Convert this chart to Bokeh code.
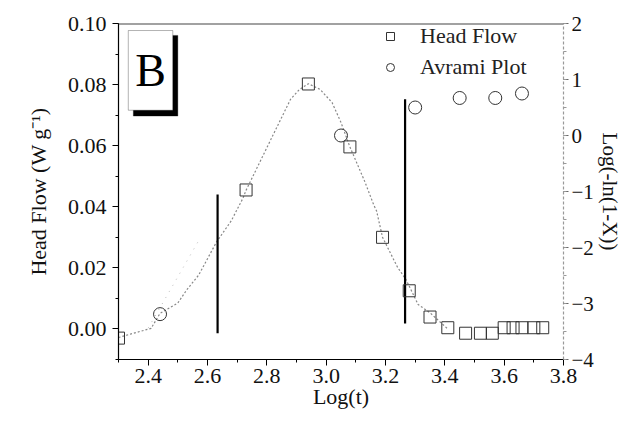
from bokeh.plotting import figure
from bokeh.models import (Range1d, LinearAxis, NumeralTickFormatter, Span,
                          BoxAnnotation, Label, Legend, LegendItem, FixedTicker)
from bokeh.embed import file_html
from bokeh.resources import INLINE

# ---- data ----
hf_x = [2.30, 2.73, 2.94, 3.08, 3.19, 3.28, 3.35, 3.41, 3.47, 3.52, 3.56, 3.60, 3.63, 3.66, 3.70, 3.73]
hf_y = [-0.003, 0.0455, 0.0802, 0.0596, 0.030, 0.0125, 0.0039, 0.0004, -0.0014, -0.0014, -0.0014,
        0.0004, 0.0004, 0.0004, 0.0004, 0.0004]

av_x = [2.44, 3.05, 3.30, 3.45, 3.57, 3.66]
av_y = [-3.19, 0.00, 0.50, 0.67, 0.67, 0.75]

fit_x = [2.30, 2.34, 2.41, 2.44, 2.50, 2.53, 2.57, 2.60, 2.63, 2.68, 2.72, 2.73, 2.82, 2.88,
         2.91, 2.94, 2.98, 3.02, 3.05, 3.08, 3.13, 3.16, 3.17, 3.19, 3.24, 3.27, 3.31, 3.35, 3.41]
fit_y = [-0.0028, -0.0017, 0.0002, 0.0051, 0.0085, 0.0128, 0.0176, 0.023, 0.0284, 0.0354, 0.0429,
         0.0454, 0.0633, 0.0752, 0.0784, 0.0803, 0.0784, 0.0741, 0.0676, 0.0596, 0.0483, 0.0407,
         0.0386, 0.030, 0.0203, 0.016, 0.008, 0.0053, 0.0]

avfit_x = [2.40, 2.57]
avfit_y = [-3.44, -1.88]

vline_x = [2.634, 3.266]
vline_top = [0.044, 0.0752]
vline_bot = [-0.0014, 0.0018]

x_ticks = [2.4, 2.6, 2.8, 3.0, 3.2, 3.4, 3.6, 3.8]
yl_ticks = [0.00, 0.02, 0.04, 0.06, 0.08, 0.10]
yr_ticks = [-4, -3, -2, -1, 0, 1, 2]

FONT = "Liberation Serif"

p = figure(width=624, height=411, output_backend="svg", toolbar_location=None,
           x_range=Range1d(2.3, 3.8), y_range=Range1d(-0.01, 0.10),
           min_border_left=118, min_border_right=55, min_border_top=23, min_border_bottom=47)
p.extra_y_ranges = {"right": Range1d(-4, 2)}
p.grid.visible = False
p.outline_line_color = None
p.background_fill_color = "white"

def style_axis(ax):
    ax.axis_line_color = "black"
    ax.axis_line_width = 1.2
    ax.major_tick_line_color = "black"
    ax.minor_tick_line_color = "black"
    ax.major_tick_out = 6
    ax.major_tick_in = 0
    ax.minor_tick_out = 3
    ax.minor_tick_in = 0
    ax.major_label_text_font = FONT
    ax.major_label_text_font_size = "22px"
    ax.major_label_text_color = "#111"
    ax.axis_label_text_font = FONT
    ax.axis_label_text_font_size = "22px"
    ax.axis_label_text_font_style = "normal"
    ax.axis_label_text_color = "#111"

xa = p.xaxis[0]
style_axis(xa)
xa.ticker = FixedTicker(ticks=x_ticks, minor_ticks=[2.3 + 0.1 * i for i in range(16)])
xa.formatter = NumeralTickFormatter(format="0.0")
xa.axis_label = "Log(t)"
xa.major_label_standoff = 3
xa.axis_label_standoff = -2

ya = p.yaxis[0]
style_axis(ya)
ya.ticker = FixedTicker(ticks=yl_ticks, minor_ticks=[-0.01 + 0.01 * i for i in range(12)])
ya.formatter = NumeralTickFormatter(format="0.00")
ya.axis_label = "Head Flow (W g⁻¹)"
ya.major_label_standoff = 6
ya.axis_label_standoff = 14

ra = LinearAxis(y_range_name="right")
style_axis(ra)
ra.ticker = FixedTicker(ticks=yr_ticks, minor_ticks=[-4 + 0.5 * i for i in range(13)])
ra.axis_label = "Log(-ln(1-X))"
ra.axis_line_color = "#999"
ra.axis_line_dash = "3 2"
ra.major_tick_line_color = "#666"
ra.minor_tick_line_color = "#999"
ra.major_tick_out = 5
ra.major_label_standoff = 3
ra.major_label_text_font_size = "21px"
ra.axis_label_text_font_size = "21px"
ra.axis_label_standoff = 1
p.add_layout(ra, "right")

p.add_layout(Span(location=0.10, dimension="width", line_color="#444", line_width=2))

# fitted curves
p.line(fit_x, fit_y, line_color="#888", line_width=1.2, line_dash="2 2")
p.line(avfit_x, avfit_y, y_range_name="right", line_color="#bbb", line_width=1, line_dash="1 6")

# vertical markers
p.segment(x0=vline_x, y0=vline_bot, x1=vline_x, y1=vline_top, line_color="black", line_width=2.2)

sq = p.scatter(hf_x, hf_y, marker="square", size=12, fill_color="white", fill_alpha=0.0,
               line_color="#333", line_width=1)
ci = p.scatter(av_x, av_y, y_range_name="right", marker="circle", size=13, fill_color="white",
               fill_alpha=0.0, line_color="#333", line_width=1)

legend = Legend(items=[LegendItem(label="Head Flow", renderers=[sq]),
                       LegendItem(label="Avrami Plot", renderers=[ci])],
                location=(262, 279), border_line_color=None, background_fill_alpha=0.0,
                label_text_font=FONT, label_text_font_size="22px", label_text_color="#222",
                glyph_width=20, glyph_height=24, spacing=5, label_standoff=20, padding=0,
                margin=0)
p.add_layout(legend)

# "B" panel box with drop shadow
p.add_layout(BoxAnnotation(left=2.35, right=2.50, bottom=0.0697, top=0.0961,
                           fill_color="black", fill_alpha=1.0, line_color="black", level="overlay"))
p.add_layout(BoxAnnotation(left=2.333, right=2.483, bottom=0.0716, top=0.0977,
                           fill_color="white", fill_alpha=1.0, line_color="black", line_width=1,
                           level="overlay"))
p.add_layout(Label(x=2.408, y=0.0846, text="B", text_font=FONT, text_font_size="46px",
                   text_align="center", text_baseline="middle", text_color="black", level="overlay"))

open("out.html", "w").write(file_html(p, INLINE))
